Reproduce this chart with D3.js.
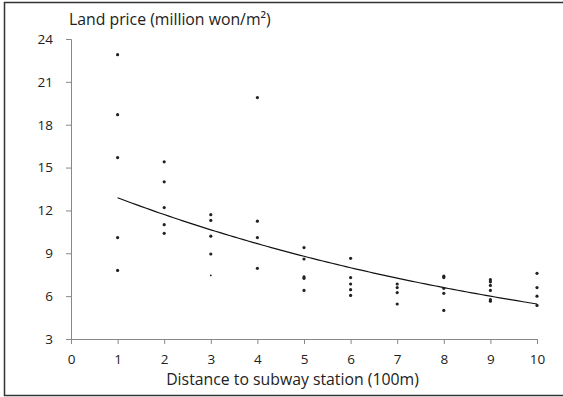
<!DOCTYPE html>
<html><head><meta charset="utf-8">
<script src="https://cdn.jsdelivr.net/npm/d3@7"></script>
<style>
html,body{margin:0;padding:0;background:#fff;}
svg{display:block;}
text{font-family:"Open Sans",sans-serif;fill:#222;}
</style></head>
<body>
<script>
const xTicks = [0,1,2,3,4,5,6,7,8,9,10];
const yTicks = [3,6,9,12,15,18,21,24];
const distances = [1,1,1,1,1, 2,2,2,2,2, 3,3,3,3,3, 4,4,4,4, 5,5,5,5,5, 6,6,6,6,6, 7,7,7,7, 8,8,8,8,8, 9,9,9,9,9,9, 10,10,10,10];
const prices = [22.9,18.7,15.7,10.1,7.8, 15.4,14.0,12.2,11.0,10.4, 11.7,11.3,10.2,8.95,7.45, 19.9,11.25,10.1,7.95, 9.4,8.6,7.35,7.25,6.4, 8.65,7.3,6.85,6.45,6.05, 6.85,6.6,6.25,5.45, 7.4,7.3,6.55,6.2,5.0, 7.15,7.0,6.75,6.4,5.75,5.65, 7.6,6.6,6.0,5.35];
const smallDot = [false,false,false,false,false, false,false,false,false,false, false,false,false,false,true, false,false,false,false, false,false,false,false,false, false,false,false,false,false, false,false,false,false, false,false,false,false,false, false,false,false,false,false,false, false,false,false,false];

const W = 563, H = 397;
const svg = d3.select("body").append("svg").attr("width", W).attr("height", H);

// frame
svg.append("rect").attr("x",4.5).attr("y",2.5).attr("width",W+10).attr("height",393)
  .attr("fill","none").attr("stroke","#333").attr("stroke-width",1.5);

const x = d3.scaleLinear().domain([0,10]).range([71,537]);
const y = d3.scaleLinear().domain([3,24]).range([339,39]);

// y axis
const yAxis = svg.append("g").attr("transform","translate(71,0)")
  .call(d3.axisLeft(y).tickValues(yTicks).tickSize(5).tickPadding(13).tickFormat(d3.format("d")));
yAxis.select(".domain").attr("stroke","#888").attr("d","M-5,39.5H0.5V339.5");
yAxis.selectAll(".tick line").attr("stroke","#888");
yAxis.selectAll(".tick text").attr("font-size",13.5).attr("font-family","'Open Sans',sans-serif").attr("fill","#333");

// x axis
const xAxis = svg.append("g").attr("transform","translate(0,339)")
  .call(d3.axisBottom(x).tickValues(xTicks).tickSize(5).tickPadding(10.4).tickFormat(d3.format("d")));
xAxis.select(".domain").attr("stroke","#888").attr("d","M71.5,0.5H537.5V5");
xAxis.selectAll(".tick line").attr("stroke","#888");
xAxis.selectAll(".tick text").attr("font-size",13.5).attr("font-family","'Open Sans',sans-serif").attr("fill","#333");

// exponential trendline via log-linear least squares
const lx = distances, ly = prices.map(Math.log);
const mx = d3.mean(lx), my = d3.mean(ly);
const b = d3.sum(lx.map((v,i)=>(v-mx)*(ly[i]-my))) / d3.sum(lx.map(v=>(v-mx)*(v-mx)));
const a = Math.exp(my - b*mx);
const trendX = d3.range(1, 10.001, 0.1);
svg.append("path")
  .attr("d", d3.line().x(d=>x(d)).y(d=>y(a*Math.exp(b*d)))(trendX))
  .attr("fill","none").attr("stroke","#111").attr("stroke-width",1.2);

// points
svg.append("g").selectAll("circle").data(prices).join("circle")
  .attr("cx",(d,i)=>x(distances[i]))
  .attr("cy",d=>y(d))
  .attr("r",(d,i)=>smallDot[i]?0.9:1.6)
  .attr("fill","#222");

// titles
svg.append("text").attr("x",69).attr("y",25).attr("font-size",15.8)
  .text("Land price (million won/m²)");
svg.append("text").attr("x",292.5).attr("y",385).attr("font-size",15.8).attr("text-anchor","middle")
  .text("Distance to subway station (100m)");
</script>
</body></html>
